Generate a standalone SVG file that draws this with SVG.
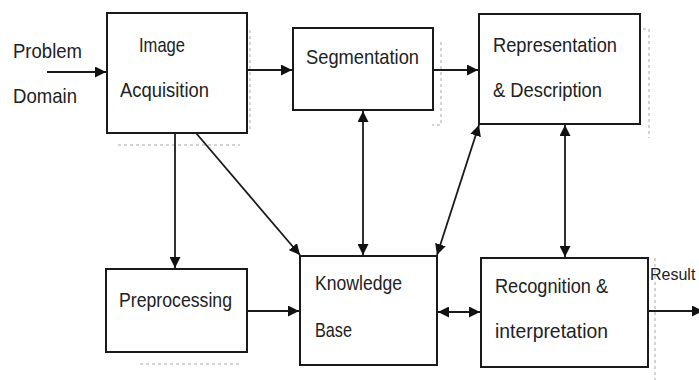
<svg xmlns="http://www.w3.org/2000/svg" width="699" height="380" viewBox="0 0 699 380">
<defs>
<marker id="ah" viewBox="0 0 10 10" refX="10" refY="5" markerWidth="11" markerHeight="11" markerUnits="userSpaceOnUse" orient="auto-start-reverse">
<path d="M0,0 L10,5 L0,10 z" fill="#111"/>
</marker>
<style>
.box{fill:#fff;stroke:#1a1a1a;stroke-width:2}
.t{font-family:"Liberation Sans",Arial,sans-serif;font-size:21px;fill:#222}
.c{stroke:#1a1a1a;stroke-width:1.8;fill:none}
.ghost{stroke:#aaa;stroke-width:1;fill:none;stroke-dasharray:3 3}
</style>
</defs>
<rect width="699" height="380" fill="#fff"/>
<g id="artifacts">
<path class="ghost" d="M441,42 L441,125 L432,125"/>
<path class="ghost" d="M643,29 L649,29 L649,138"/>
<path class="ghost" d="M655,258 L655,380"/>
<path class="ghost" d="M118,145 L240,145"/>
<path class="ghost" d="M140,364 L240,364"/>
<path class="ghost" d="M250,30 L250,130"/>
</g>
<g id="problem-domain">
<text class="t" x="13" y="58" textLength="69" lengthAdjust="spacingAndGlyphs">Problem</text>
<text class="t" x="13" y="103" textLength="64" lengthAdjust="spacingAndGlyphs">Domain</text>
</g>
<g id="image-acquisition">
<rect class="box" x="107" y="13" width="140" height="120"/>
<text class="t" x="139" y="52" textLength="46" lengthAdjust="spacingAndGlyphs">Image</text>
<text class="t" x="120" y="97" textLength="89" lengthAdjust="spacingAndGlyphs">Acquisition</text>
</g>
<g id="segmentation">
<rect class="box" x="293" y="28" width="140" height="82"/>
<text class="t" x="306" y="64" textLength="113" lengthAdjust="spacingAndGlyphs">Segmentation</text>
</g>
<g id="representation">
<rect class="box" x="479" y="14" width="161" height="110"/>
<text class="t" x="493" y="52" textLength="124" lengthAdjust="spacingAndGlyphs">Representation</text>
<text class="t" x="493" y="97" textLength="109" lengthAdjust="spacingAndGlyphs">&amp; Description</text>
</g>
<g id="preprocessing">
<rect class="box" x="106" y="269" width="141" height="83"/>
<text class="t" x="119" y="307" textLength="113" lengthAdjust="spacingAndGlyphs">Preprocessing</text>
</g>
<g id="knowledge-base">
<rect class="box" x="300" y="256" width="137" height="109"/>
<text class="t" x="315" y="290" textLength="87" lengthAdjust="spacingAndGlyphs">Knowledge</text>
<text class="t" x="315" y="337" textLength="37" lengthAdjust="spacingAndGlyphs">Base</text>
</g>
<g id="recognition">
<rect class="box" x="481" y="258" width="167" height="109"/>
<text class="t" x="495" y="293" textLength="113" lengthAdjust="spacingAndGlyphs">Recognition &amp;</text>
<text class="t" x="495" y="338" textLength="113" lengthAdjust="spacingAndGlyphs">interpretation</text>
</g>
<g id="result">
<text x="650" y="280" font-family="Liberation Sans, Arial, sans-serif" font-size="16" fill="#222">Result</text>
</g>
<g id="connectors">
<line class="c" x1="47" y1="72" x2="106" y2="72" marker-end="url(#ah)"/>
<line class="c" x1="247" y1="70" x2="292" y2="70" marker-end="url(#ah)"/>
<line class="c" x1="433" y1="70" x2="478" y2="70" marker-end="url(#ah)"/>
<line class="c" x1="175" y1="133" x2="175" y2="268" marker-end="url(#ah)"/>
<line class="c" x1="196" y1="133" x2="300" y2="255" marker-end="url(#ah)"/>
<line class="c" x1="363" y1="111" x2="363" y2="255" marker-start="url(#ah)" marker-end="url(#ah)"/>
<line class="c" x1="437" y1="255" x2="479" y2="125" marker-start="url(#ah)" marker-end="url(#ah)"/>
<line class="c" x1="565" y1="125" x2="565" y2="257" marker-start="url(#ah)" marker-end="url(#ah)"/>
<line class="c" x1="247" y1="311" x2="299" y2="311" marker-end="url(#ah)"/>
<line class="c" x1="438" y1="312" x2="480" y2="312" marker-start="url(#ah)" marker-end="url(#ah)"/>
<line class="c" x1="648" y1="311" x2="703" y2="311" marker-end="url(#ah)"/>
</g>
</svg>
